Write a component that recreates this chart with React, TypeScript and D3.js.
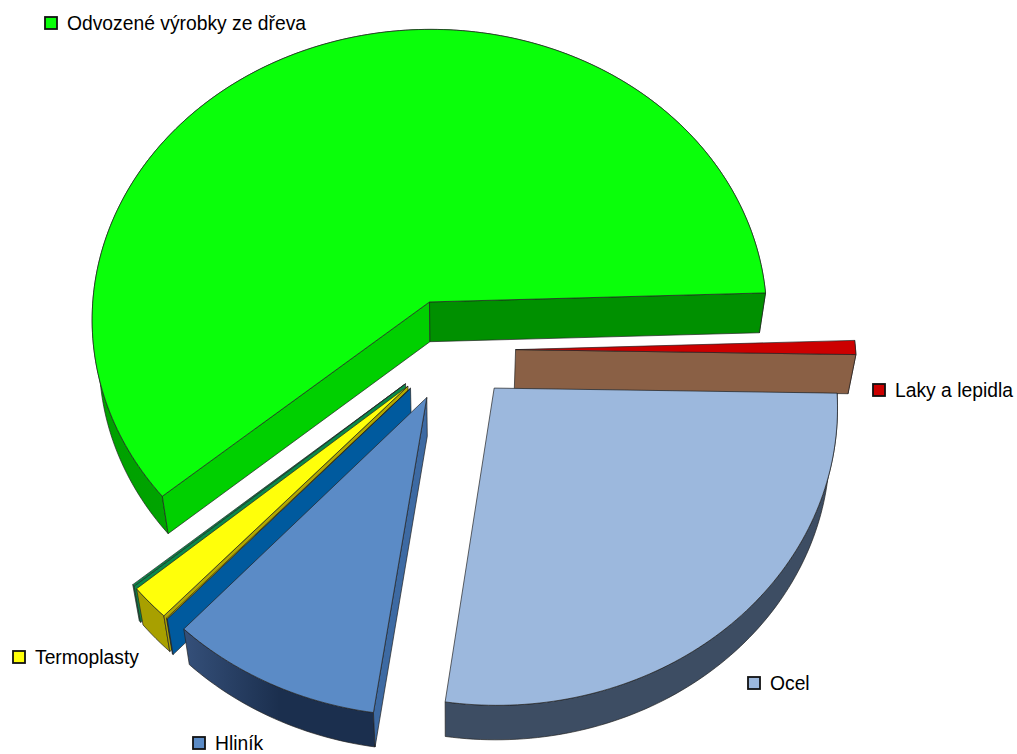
import { useEffect, useRef } from 'react';
import * as d3 from 'd3';

const WIDTH = 1017;
const HEIGHT = 754;

// podíly v procentech, po směru hodinových ručiček
const shares = [0.77, 27.0, 9.5, 0.05, 1.85, 0.1, 60.73];
const explodes = [0.19, 0.18, 0.175, 0.175, 0.175, 0.175, 0.177];
const explodeTurn = [0, -4, -1.5, 0, 0, 0, 0];

const topColors = ['#cc0000', '#9cb8dd', '#5b8bc6', '#d4c400', '#ffff0a', '#0a8a4a', '#0aff0a'];
const startWallColors = ['#660000', '#3d4d63', '#3d6aa3', '#005a9e', '#b3a800', '#0a8a4a', '#00d000'];
const endWallColors = ['#8a6045', '#3d4d63', '#2a4468', '#005a9e', '#a8a000', '#0a8a4a', '#009000'];
const outerWallColors = ['#990000', '#3d4d63', 'url(#wallHlinik)', '#005a9e', '#a8a000', '#0a8a4a', 'url(#wallGreen)'];

const drawOrder = [6, 0, 5, 4, 3, 2, 1];

const legendLabels = ['Odvozené výrobky ze dřeva', 'Laky a lepidla', 'Ocel', 'Hliník', 'Termoplasty'];
const legendColors = ['#0aff0a', '#cc0000', '#9cb8dd', '#5b8bc6', '#ffff0a'];
const legendX = [45, 873, 748, 193, 13];
const legendY = [23, 390, 683, 743, 657];

// projekce koláče
const cam = { cx: 451, cy: 350, R: 340, S: 294, D: 40, k: 0.0587, m: 0.02 };
const project = (u: number, v: number, z: number): [number, number] => {
  const w = 1 - cam.k * v + cam.m * z;
  return [cam.cx + (cam.R * u) / w, cam.cy + (cam.S * v + cam.D * z) / w];
};

export default function App() {
  const svgRef = useRef<SVGSVGElement>(null);

  useEffect(() => {
    const svg = d3.select(svgRef.current);
    svg.selectAll('*').remove();

    const defs = svg.append('defs');
    const grad = (id: string, stops: string[]) => {
      const g = defs.append('linearGradient').attr('id', id);
      stops.forEach((c, i) => g.append('stop').attr('offset', i / (stops.length - 1)).attr('stop-color', c));
    };
    grad('wallGreen', ['#00a000', '#00c000']);
    grad('wallHlinik', ['#35507a', '#1b2f4e', '#1b2f4e']);

    const arcs = d3
      .pie<number>()
      .sort(null)
      .value((d) => d)
      .startAngle(((358.2 + 90) * Math.PI) / 180)
      .endAngle(((358.2 + 90 + 360) * Math.PI) / 180)(shares);

    const line = d3.line().curve(d3.curveLinear);

    const face = (pts: [number, number][], fill: string) => {
      svg
        .append('path')
        .attr('d', `${line(pts)}Z`)
        .attr('fill', fill)
        .attr('stroke', '#222')
        .attr('stroke-width', 0.7)
        .attr('stroke-linejoin', 'round');
    };

    drawOrder.forEach((i) => {
      const a = arcs[i];
      const t0 = a.startAngle - Math.PI / 2;
      const t1 = a.endAngle - Math.PI / 2;
      const mid = (t0 + t1) / 2 + (explodeTurn[i] * Math.PI) / 180;
      const ox = explodes[i] * Math.cos(mid);
      const oy = explodes[i] * Math.sin(mid);
      const n = Math.max(2, Math.ceil((t1 - t0) / 0.02));
      const ts = d3.range(n + 1).map((j) => t0 + ((t1 - t0) * j) / n);
      const at = (t: number, r: number, z: number) => project(ox + r * Math.cos(t), oy + r * Math.sin(t), z);

      const outer: [number, number][] = [...ts.map((t) => at(t, 1, 0)), ...ts.slice().reverse().map((t) => at(t, 1, 1))];
      face(outer, outerWallColors[i]);

      // stěny, odvrácené se nekreslí
      const startWall: [number, number][] = [at(t0, 0, 0), at(t0, 1, 0), at(t0, 1, 1), at(t0, 0, 1)];
      const endWall: [number, number][] = [at(t1, 1, 0), at(t1, 0, 0), at(t1, 0, 1), at(t1, 1, 1)];
      if (d3.polygonArea(startWall) > 0) face(startWall, startWallColors[i]);
      if (d3.polygonArea(endWall) > 0) face(endWall, endWallColors[i]);

      face([at(t0, 0, 0), ...ts.map((t) => at(t, 1, 0))], topColors[i]);
    });

    // legenda
    legendLabels.forEach((label, i) => {
      svg
        .append('rect')
        .attr('x', legendX[i])
        .attr('y', legendY[i] - 6)
        .attr('width', 12)
        .attr('height', 12)
        .attr('fill', legendColors[i])
        .attr('stroke', '#111')
        .attr('stroke-width', 1.8);
      svg
        .append('text')
        .attr('x', legendX[i] + 22)
        .attr('y', legendY[i] + 7)
        .attr('font-family', '"Liberation Sans", Arial, sans-serif')
        .attr('font-size', 19.3)
        .attr('fill', '#000')
        .text(label);
    });
  }, []);

  return <svg ref={svgRef} width={WIDTH} height={HEIGHT} style={{ position: 'absolute', left: 0, top: 0, background: '#fff' }} />;
}
